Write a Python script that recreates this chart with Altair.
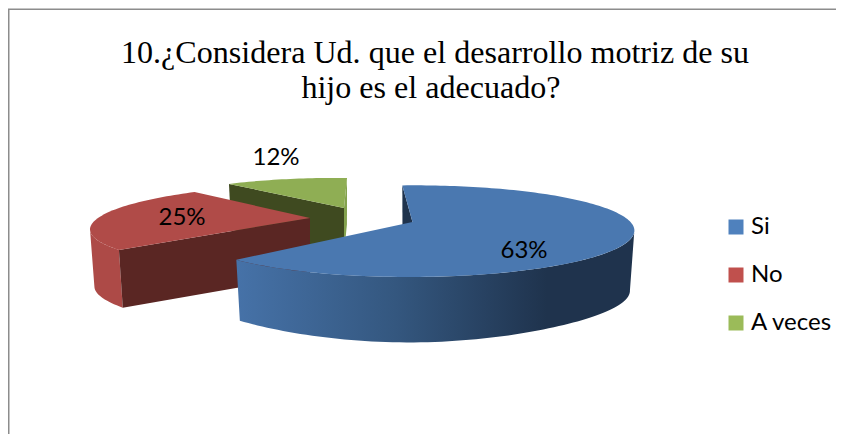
import math
import altair as alt

# ---- data ----
categories = ["Si", "No", "A veces"]
percent_values = [63, 25, 12]
percent_labels = ["63%", "25%", "12%"]
top_colors = ["#4a78b0", "#b04b48", "#8fae54"]
legend_colors = ["#4f81bd", "#c0504d", "#9bbb59"]
title_lines = ["10.¿Considera Ud. que el desarrollo motriz de su", "hijo es el adecuado?"]

W, H = 828, 426
OX, OY = 8, 8           # page margin: page pixels -> chart pixels
START_ANGLE = -4.0
K = 0.2                 # perspective strength

# apex (page px), R, Q, S, T, thickness
slice_view = [
    (412.5, 222, 218, -3.0, 44, 0.0, 60),
    (310, 218, 207, -30.5, 40, 3.1, 57),
    (344, 208, 194, -17.2, 35.8, 4.1, 46),
]


def project(view, deg, radius=1.0, drop=0.0):
    ax, ay, R, Q, S, T, _ = view
    u = math.sin(math.radians(deg)) * radius
    v = -math.cos(math.radians(deg)) * radius
    w = 1 - K * v
    dx = (R * u + Q * v) / w
    dy = (S * v + T * u) / w
    if drop:
        dx *= 0.98
        dy += drop * (1 + 0.09 * max(v, 0) ** 6)
    return [ax + dx - OX, ay + dy - OY]


def arc_points(view, a0, a1, drop=0.0):
    n = max(2, int(abs(a1 - a0) / 1.5))
    return [project(view, a0 + (a1 - a0) * i / n, 1.0, drop) for i in range(n + 1)]


def feature(points, name=""):
    ring = list(points) + [points[0]]
    return {"type": "Feature", "properties": {"name": name},
            "geometry": {"type": "Polygon", "coordinates": [ring]}}


angles = []
a = START_ANGLE
for p in percent_values:
    angles.append((a, a + p * 3.6))
    a += p * 3.6


def shape(features, fill):
    return alt.Chart(alt.Data(values=features)).mark_geoshape(
        fill=fill, stroke=None, strokeWidth=0)


def h_gradient(stops):
    return alt.LinearGradient(
        gradient="linear", x1=0, x2=1, y1=0, y2=0,
        stops=[alt.GradientStop(offset=o, color=c) for o, c in stops])


def widest_angle(view, lo, hi, sign):
    cand = [lo + (hi - lo) * i / 200 for i in range(201)]
    return max(cand, key=lambda d: sign * project(view, d)[0])


layers = []

# green slice
gv = slice_view[2]
g0, g1 = angles[2]
apex_g = project(gv, 0, 0)
t = gv[6]
layers.append(shape([feature([project(gv, g1), apex_g, [apex_g[0], apex_g[1] + t],
                              project(gv, g1, 1, t)])], "#84a24e"))
layers.append(shape([feature([project(gv, g0), apex_g, [apex_g[0], apex_g[1] + t],
                              project(gv, g0, 1, t)])], "#3f4a20"))
layers.append(shape([feature([apex_g] + arc_points(gv, g0, g1))], top_colors[2]))

# red slice
rv = slice_view[1]
r0, r1 = angles[1]
apex_r = project(rv, 0, 0)
t = rv[6]
r_mid = widest_angle(rv, r0, r1, -1)
layers.append(shape([feature(arc_points(rv, r0, r_mid) + arc_points(rv, r_mid, r0, t))],
                    "#ad4a47"))
layers.append(shape([feature([project(rv, r0), apex_r, [apex_r[0], apex_r[1] + t],
                              project(rv, r0, 1, t)])], "#5a2623"))
layers.append(shape([feature([apex_r] + arc_points(rv, r0, r1))], top_colors[1]))

# blue slice
bv = slice_view[0]
b0, b1 = angles[0]
apex_b = project(bv, 0, 0)
t = bv[6]
b_mid = widest_angle(bv, b0, b1, 1)
layers.append(shape([feature([project(bv, b0), apex_b, [apex_b[0], apex_b[1] + t],
                              project(bv, b0, 1, t)])], "#1f334d"))
layers.append(shape([feature(arc_points(bv, b_mid, b1) + arc_points(bv, b1, b_mid, t))],
                    h_gradient([(0, "#4672a8"), (0.4, "#34577f"),
                                (0.78, "#1f334d"), (1, "#1f334d")])))
layers.append(shape([feature([apex_b] + arc_points(bv, b0, b1))], top_colors[0]))


def text_layer(rows, **kw):
    return alt.Chart(alt.Data(values=rows)).mark_text(**kw).encode(
        x=alt.X("x:Q", scale=None), y=alt.Y("y:Q", scale=None), text="t:N")


frame_color = "#8c8c8c"
frame = alt.Chart(alt.Data(values=[{"k": 0}])).mark_rect(
    fill=None, stroke=frame_color, strokeWidth=1.5
).encode(x=alt.value(0.75), x2=alt.value(W + 30), y=alt.value(1.25), y2=alt.value(H + 30))

titles = text_layer(
    [{"x": 435 - OX, "y": 63 - OY, "t": title_lines[0]},
     {"x": 431 - OX, "y": 98 - OY, "t": title_lines[1]}],
    font="Liberation Serif", fontSize=32.1, align="center", baseline="alphabetic", color="#000000")

pct = text_layer(
    [{"x": 524 - OX, "y": 251 - OY, "t": percent_labels[0]},
     {"x": 182 - OX, "y": 218 - OY, "t": percent_labels[1]},
     {"x": 276 - OX, "y": 158 - OY, "t": percent_labels[2]}],
    font="Lato", fontSize=24, align="center", baseline="middle", color="#000000")

legend_rows = [{"cat": c, "order": i} for i, c in enumerate(categories)]
legend = alt.Chart(alt.Data(values=legend_rows)).mark_point(opacity=0).encode(
    x=alt.value(-50), y=alt.value(-50),
    fill=alt.Fill("cat:N",
                  scale=alt.Scale(domain=categories, range=legend_colors),
                  legend=alt.Legend(
                      title=None, orient="none", legendX=716, legendY=207,
                      symbolType="square", symbolSize=225, symbolStrokeWidth=0,
                      symbolOpacity=1,
                      labelFont="Lato", labelFontSize=24, labelColor="#000000",
                      labelOffset=3, rowPadding=24, padding=0)),
)

chart = alt.layer(frame, *layers, titles, pct, legend).project(
    type="identity", scale=1, translate=[0, 0]
).resolve_scale(fill="independent").properties(
    width=W, height=H, padding=0,
    autosize=alt.AutoSizeParams(type="none"),
    background="#ffffff",
).configure_view(stroke=None)

chart.save("out.html", embed_options={"renderer": "svg", "actions": False})
